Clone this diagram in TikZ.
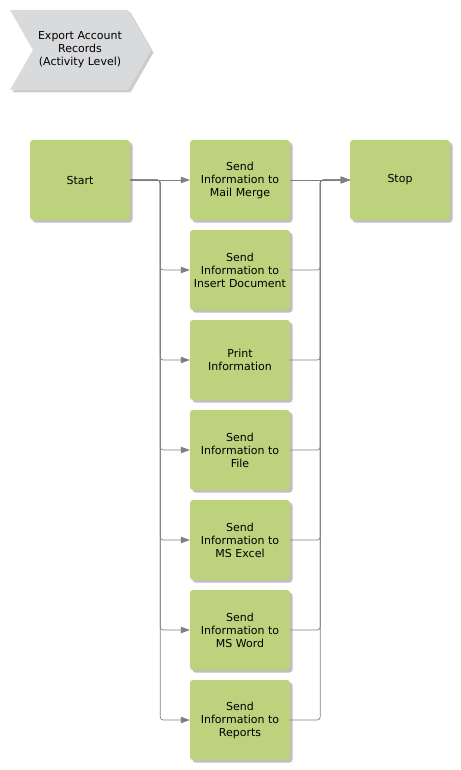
\documentclass[tikz,border=0pt]{standalone}
\usepackage{fontspec}
\setmainfont{DejaVu Sans}
\usetikzlibrary{arrows.meta,shadows}
\definecolor{taskgreen}{RGB}{189,210,125}
\definecolor{headgray}{RGB}{217,218,220}
\definecolor{linegray}{RGB}{128,128,128}
\tikzset{task/.style={fill=taskgreen,rounded corners=3pt,minimum width=100pt,minimum height=80pt,
  align=center,inner sep=0pt,font=\fontsize{11}{13}\selectfont,
  drop shadow={shadow xshift=2.5pt,shadow yshift=-2.5pt,fill=black,opacity=0.25}}}
\tikzset{link/.style={draw=linegray,rounded corners=3pt,line width=0.7pt}}
\tikzset{flow/.style={link,-{Triangle[length=9pt,width=6.5pt]}}}

\begin{document}
\begin{tikzpicture}[x=1pt,y=-1pt]
	\useasboundingbox (0,0) rectangle (460,770);
	% header
	\filldraw [fill=headgray,draw=none,
		drop shadow={shadow xshift=2.5pt,shadow yshift=-2.5pt,fill=black,opacity=0.2}]
		(10,10) -- (128,10) -- (151,50) -- (128,90) -- (10,90) -- (33,50) -- cycle;
	\node [font=\fontsize{11}{13}\selectfont,align=center] (head) at (80,50)
		{Export Account\\Records\\(Activity Level)};
	% tasks
	\node [task] (start) at (80,180) {Start};
	\node [task] (stop) at (400,180) {Stop};
	\node [task] (m1) at (240,180) {Send\\Information to\\Mail Merge};
	\node [task] (m2) at (240,270) {Send\\Information to\\Insert Document};
	\node [task] (m3) at (240,360) {Print\\Information};
	\node [task] (m4) at (240,450) {Send\\Information to\\File};
	\node [task] (m5) at (240,540) {Send\\Information to\\MS Excel};
	\node [task] (m6) at (240,630) {Send\\Information to\\MS Word};
	\node [task] (m7) at (240,720) {Send\\Information to\\Reports};
	% connectors
	\draw [flow] (start) -- (m1);
	\draw [flow] (m1) -- (stop);
	\foreach \i in {2,...,7} {
		\draw [flow] (start.east) -- ++(30,0) |- (m\i.west);
		\draw [flow] (m\i.east) -- ++(30,0) |- (stop.west);
	}
\end{tikzpicture}
\end{document}
